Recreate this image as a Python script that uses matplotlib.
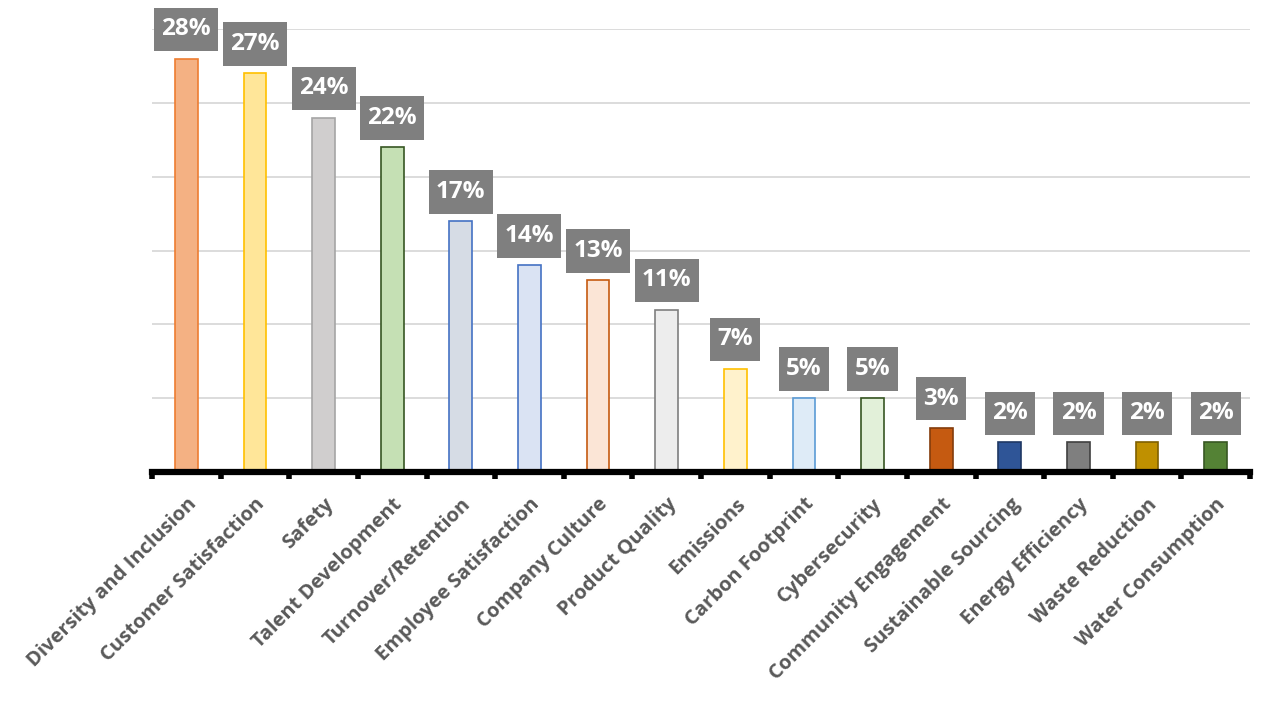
import matplotlib
matplotlib.use('Agg')
from matplotlib import pyplot as plt
from matplotlib.path import Path
import numpy as np

categories = ['Diversity and Inclusion', 'Customer Satisfaction', 'Safety',
              'Talent Development', 'Turnover/Retention', 'Employee Satisfaction',
              'Company Culture', 'Product Quality', 'Emissions', 'Carbon Footprint',
              'Cybersecurity', 'Community Engagement', 'Sustainable Sourcing',
              'Energy Efficiency', 'Waste Reduction', 'Water Consumption']
values = [28, 27, 24, 22, 17, 14, 13, 11, 7, 5, 5, 3, 2, 2, 2, 2]

fill_colors = ['#F4B183', '#FFE699', '#D0CECE', '#C5E0B4', '#D6DCE5', '#DAE3F3',
               '#FBE5D6', '#EDEDED', '#FFF2CC', '#DEEBF7', '#E2F0D9', '#C55A11',
               '#2F5597', '#7F7F7F', '#BF9000', '#548235']
edge_colors = ['#ED7D31', '#FFC000', '#A5A5A5', '#375623', '#4472C4', '#4472C4',
               '#C55A11', '#7F7F7F', '#FFC000', '#5B9BD5', '#375623', '#843C0C',
               '#1F3864', '#404040', '#7F6000', '#385723']


def label_box(x0, y0, width, height, mutation_size):
    # wider vertical than horizontal padding, like the excel callouts
    px = 0.3 * mutation_size
    py = 0.4 * mutation_size
    return Path([(x0 - px, y0 - py), (x0 + width + px, y0 - py),
                 (x0 + width + px, y0 + height + py), (x0 - px, y0 + height + py),
                 (x0 - px, y0 - py)], closed=True)


plt.rcParams['font.family'] = ['Open Sans', 'DejaVu Sans']

fig = plt.figure(figsize=(12.8, 7.03), dpi=100)
ax = fig.add_axes([152/1280, 231/703, 1098/1280, 443/703])

x = np.arange(len(categories))
ax.bar(x, values, width=0.33, color=fill_colors, edgecolor=edge_colors,
       linewidth=1.2, zorder=3)

for xi, v in zip(x, values):
    ax.annotate('%d%%' % v, (xi, v), xytext=(0, 21), textcoords='offset points',
                ha='center', va='center', fontsize=17.5, fontweight='bold',
                color='white', annotation_clip=False, zorder=4,
                bbox=dict(boxstyle=label_box, fc='#7F7F7F', ec='none'))

ax.set_xlim(-0.5, len(categories) - 0.5)
ax.set_ylim(0, 30)
ax.set_yticks(np.arange(0, 31, 5))
ax.yaxis.grid(True, color='#D9D9D9', linewidth=1.3, zorder=0)
ax.tick_params(axis='y', length=0, labelleft=False)

ax.set_xticks(x)
ax.set_xticklabels(categories, rotation=45, ha='right', rotation_mode='anchor',
                   fontsize=14.5, fontweight='bold', color='#595959')
ax.tick_params(axis='x', which='major', length=0, pad=16)
ax.set_xticks(np.arange(-0.5, len(categories), 1), minor=True)
ax.tick_params(axis='x', which='minor', length=5, width=4, color='black',
               direction='out')

for s in ['top', 'right', 'left']:
    ax.spines[s].set_visible(False)
ax.spines['bottom'].set_linewidth(4.5)
ax.spines['bottom'].set_zorder(5)

plt.savefig('out.png', dpi=100)
